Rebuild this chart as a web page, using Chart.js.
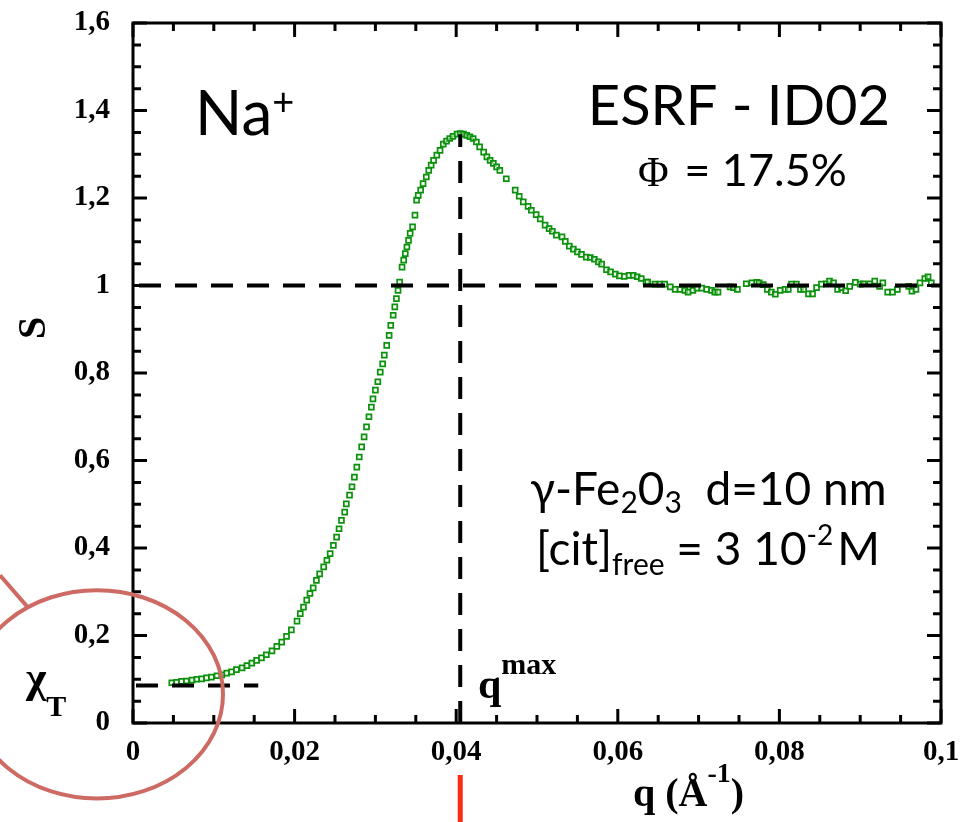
<!DOCTYPE html>
<html><head><meta charset="utf-8">
<script src="https://cdn.jsdelivr.net/npm/chart.js@4.4.0/dist/chart.umd.min.js"></script>
<style>html,body{margin:0;padding:0;background:#fff;overflow:hidden}</style>
</head><body>
<canvas id="c" width="967" height="822"></canvas>
<script>
// ---- data ----
const qValues = [
  0.0048,0.0054,0.0060,0.0066,0.0073,0.0079,0.0085,0.0091,0.0097,0.0104,0.0110,0.0116,0.0122,0.0128,0.0135,0.0141,0.0147,0.0153,0.0159,0.0165,0.0172,0.0178,0.0184,0.0190,0.0196,0.0203,0.0207,0.0211,0.0215,0.0219,0.0223,0.0227,
  0.0231,0.0236,0.0240,0.0244,0.0248,0.0252,0.0255,0.0258,0.0262,0.0264,0.0268,0.0271,0.0274,0.0277,0.0280,0.0283,0.0286,0.0289,0.0292,0.0295,0.0297,0.0300,0.0303,0.0306,0.0309,0.0311,0.0314,0.0317,0.0319,0.0322,0.0324,0.0326,0.0328,0.0330,
  0.0333,0.0335,0.0337,0.0339,0.0341,0.0343,0.0346,0.0349,0.0351,0.0353,0.0356,0.0359,0.0363,0.0366,0.0369,0.0372,0.0376,0.0380,0.0384,0.0388,0.0392,0.0396,0.0401,0.0405,0.0409,0.0413,0.0417,0.0421,0.0425,0.0429,0.0434,0.0438,0.0442,0.0446,0.0450,0.0454,0.0462,0.0473,0.0478,0.0483,0.0489,0.0493,0.0499,0.0504,0.0510,0.0515,0.0519,0.0524,0.0531,0.0535,0.0540,0.0545,0.0550,0.0555,0.0561,0.0566,0.0571,0.0576,0.0580,0.0586,0.0591,0.0597,0.0602,0.0608,0.0614,0.0619,0.0624,0.0629,0.0635,
  0.0637,0.0646,0.0652,0.0658,0.0665,0.0671,0.0677,0.0683,0.0687,0.0693,0.0698,0.0704,0.0710,0.0716,0.0720,0.0724,0.0739,0.0743,0.0748,0.0759,0.0766,0.0772,0.0775,0.0780,0.0785,0.0790,0.0795,0.0801,0.0807,0.0811,0.0815,0.0821,0.0826,0.0830,0.0836,0.0841,0.0846,0.0852,0.0858,0.0862,0.0867,0.0872,0.0877,0.0882,0.0887,0.0894,0.0900,0.0904,0.0912,0.0918,0.0924,0.0928,0.0934,0.0940,0.0946,0.0960,0.0964,0.0969,0.0974,0.0980,0.0984,0.0988
];
const sValues = [
  0.092,0.093,0.095,0.096,0.098,0.100,0.101,0.103,0.105,0.108,0.110,0.114,0.117,0.122,0.126,0.131,0.137,0.143,0.149,0.156,0.165,0.175,0.185,0.198,0.213,0.233,0.250,0.265,0.281,0.296,0.309,0.326,
  0.341,0.357,0.372,0.387,0.406,0.425,0.444,0.463,0.482,0.501,0.521,0.540,0.562,0.585,0.608,0.631,0.654,0.677,0.700,0.722,0.741,0.761,0.780,0.802,0.821,0.841,0.863,0.886,0.909,0.932,0.951,0.970,0.989,1.008,
  1.042,1.058,1.073,1.088,1.103,1.119,1.134,1.161,1.195,1.206,1.218,1.233,1.248,1.263,1.275,1.286,1.298,1.309,1.323,1.330,1.336,1.341,1.346,1.347,1.346,1.343,1.340,1.336,1.328,1.317,1.305,1.294,1.286,1.279,1.271,1.263,1.244,1.218,1.204,1.191,1.181,1.172,1.162,1.152,1.138,1.130,1.124,1.115,1.111,1.101,1.090,1.083,1.077,1.071,1.065,1.064,1.060,1.054,1.049,1.036,1.031,1.026,1.022,1.021,1.023,1.023,1.020,1.016,1.008,
  1.008,1.003,1.003,1.003,0.997,0.991,0.991,0.989,0.985,0.989,0.994,0.994,0.991,0.989,0.985,0.985,0.997,0.995,0.991,1.004,1.006,1.007,1.006,1.002,0.991,0.985,0.980,0.989,0.991,0.991,1.003,1.003,0.991,0.991,0.981,0.981,0.995,1.003,1.004,1.010,1.006,0.991,0.995,0.988,0.998,1.007,1.003,1.004,1.004,1.010,0.998,1.006,0.985,0.985,0.991,0.998,0.987,0.991,1.006,1.016,1.020,1.006
];
const xTicks = [0,0.02,0.04,0.06,0.08,0.1];
const xTickLabels = ['0','0,02','0,04','0,06','0,08','0,1'];
const yTicks = [0,0.2,0.4,0.6,0.8,1,1.2,1.4,1.6];
const yTickLabels = ['0','0,2','0,4','0,6','0,8','1','1,2','1,4','1,6'];
const qMax = 0.0405, sPeak = 1.346;
const chiT = 0.086, chiTEnd = 0.0155;
const sOne = 1;

const SERIF = '"Liberation Serif", "DejaVu Serif", serif';
const SANS = 'Lato, "Open Sans", sans-serif';

function runs(ctx, parts, x, baseline) {
  for (const p of parts) {
    ctx.font = p[1];
    ctx.fillText(p[0], x, baseline + (p[2] || 0));
    x += ctx.measureText(p[0]).width + (p[3] || 0);
  }
  return x;
}

const decor = {
  id: 'decor',
  afterDatasetsDraw(chart) {
    const {ctx, chartArea: a, scales: {x, y}} = chart;
    ctx.save();
    ctx.strokeStyle = '#000';
    ctx.lineWidth = 4;
    ctx.setLineDash([22, 14]);
    ctx.beginPath();
    ctx.moveTo(x.getPixelForValue(0) + 6, y.getPixelForValue(sOne));
    ctx.lineTo(a.right, y.getPixelForValue(sOne));
    ctx.stroke();
    ctx.beginPath();
    ctx.moveTo(x.getPixelForValue(qMax), y.getPixelForValue(0));
    ctx.lineTo(x.getPixelForValue(qMax), y.getPixelForValue(sPeak));
    ctx.stroke();
    ctx.beginPath();
    ctx.moveTo(x.getPixelForValue(0) + 3, y.getPixelForValue(chiT));
    ctx.lineTo(x.getPixelForValue(chiTEnd), y.getPixelForValue(chiT));
    ctx.stroke();
    ctx.restore();
  },
  afterDraw(chart) {
    const {ctx, chartArea: a, scales: {x, y}} = chart;
    ctx.save();
    ctx.strokeStyle = '#000';
    ctx.lineWidth = 3;
    ctx.strokeRect(a.left, a.top, a.right - a.left, a.bottom - a.top);
    ctx.beginPath();
    for (let i = 0; i <= 20; i++) {
      const px = x.getPixelForValue(i * 0.005);
      const len = (i % 4 === 0) ? 14 : 8;
      ctx.moveTo(px, a.bottom); ctx.lineTo(px, a.bottom - len);
      ctx.moveTo(px, a.top); ctx.lineTo(px, a.top + len);
    }
    for (let i = 0; i <= 32; i++) {
      const py = y.getPixelForValue(i * 0.05);
      const len = (i % 4 === 0) ? 14 : 8;
      ctx.moveTo(a.left, py); ctx.lineTo(a.left + len, py);
      ctx.moveTo(a.right, py); ctx.lineTo(a.right - len, py);
    }
    ctx.stroke();

    ctx.fillStyle = '#000';
    ctx.textAlign = 'left';
    ctx.textBaseline = 'alphabetic';
    runs(ctx, [['Na', '62px ' + SANS], ['+', '38px ' + SANS, -20]], 195, 135);
    ctx.textAlign = 'right';
    ctx.font = '56px ' + SANS;
    ctx.fillText('ESRF - ID02', 890, 125);
    ctx.textAlign = 'left';
    runs(ctx, [['\u03A6', '42px ' + SERIF, 0, 4], [' = 17.5%', '45px ' + SANS]], 638, 186);
    runs(ctx, [['\u03B3-Fe', '46px ' + SANS], ['2', '30px ' + SANS, 8], ['0', '46px ' + SANS], ['3', '30px ' + SANS, 8], ['  d=10 nm', '46px ' + SANS]], 530, 505);
    runs(ctx, [['[cit]', '46px ' + SANS], ['free', '30px ' + SANS, 10], [' = 3 10', '46px ' + SANS], ['-2', '28px ' + SANS, -20, 4], ['M', '46px ' + SANS]], 536, 565);
    runs(ctx, [['\u03C7', 'bold 44px ' + SERIF], ['T', 'bold 30px ' + SERIF, 24]], 26, 692);
    runs(ctx, [['q', 'bold 42px ' + SERIF], ['max', 'bold 30px ' + SERIF, -24]], 478, 698);
    runs(ctx, [['q (\u00C5', 'bold 40px ' + SERIF], ['-1', 'bold 28px ' + SERIF, -24], [')', 'bold 40px ' + SERIF]], 633, 806);
    ctx.save();
    ctx.translate(35, 328);
    ctx.rotate(-Math.PI / 2);
    ctx.textAlign = 'center';
    ctx.textBaseline = 'middle';
    ctx.font = 'bold 40px ' + SERIF;
    ctx.fillText('S', 0, 0);
    ctx.restore();

    const cx = x.getPixelForValue(-0.00446), cy = y.getPixelForValue(0.0656);
    const rx = x.getPixelForValue(0.0156) - x.getPixelForValue(0);
    const ry = y.getPixelForValue(0) - y.getPixelForValue(0.238);
    ctx.strokeStyle = '#cd6a63';
    ctx.lineWidth = 4;
    ctx.beginPath();
    ctx.ellipse(cx, cy, rx, ry, 0, 0, Math.PI * 2);
    ctx.stroke();
    ctx.beginPath();
    ctx.moveTo(x.getPixelForValue(-0.01646), y.getPixelForValue(0.3376));
    ctx.lineTo(x.getPixelForValue(-0.01312), y.getPixelForValue(0.2667));
    ctx.stroke();
    ctx.strokeStyle = '#ff2a12';
    ctx.lineWidth = 5;
    ctx.beginPath();
    ctx.moveTo(x.getPixelForValue(qMax), 775);
    ctx.lineTo(x.getPixelForValue(qMax), 822);
    ctx.stroke();
    ctx.restore();
  }
};

new Chart(document.getElementById('c'), {
  type: 'scatter',
  data: {
    datasets: [{
      data: qValues.map((q, i) => ({x: q, y: sValues[i]})),
      pointStyle: 'rect',
      radius: 3.5,
      borderWidth: 1.7,
      borderColor: 'rgb(12,145,12)',
      backgroundColor: 'rgba(235,250,235,0.5)',
      showLine: false
    }]
  },
  options: {
    responsive: false,
    animation: false,
    layout: {padding: {left: 0, top: 23, right: 26, bottom: 0}},
    plugins: {legend: {display: false}, tooltip: {enabled: false}},
    scales: {
      x: {
        type: 'linear', min: 0, max: 0.1,
        afterBuildTicks: s => { s.ticks = xTicks.map(v => ({value: v})); },
        afterFit: s => { s.height = 99; s.paddingLeft = 0; s.paddingRight = 0; },
        ticks: {callback: (v, i) => xTickLabels[i], color: '#000', padding: 12,
                font: {family: SERIF, size: 29, weight: 'bold'}, maxRotation: 0, autoSkip: false},
        grid: {display: false, drawTicks: false, tickLength: 0},
        border: {display: false}
      },
      y: {
        type: 'linear', min: 0, max: 1.6,
        afterBuildTicks: s => { s.ticks = yTicks.map(v => ({value: v})); },
        afterFit: s => { s.width = 133; s.paddingTop = 0; s.paddingBottom = 0; },
        ticks: {callback: (v, i) => yTickLabels[i], color: '#000', padding: 23,
                font: {family: SERIF, size: 29, weight: 'bold'}, autoSkip: false},
        grid: {display: false, drawTicks: false, tickLength: 0},
        border: {display: false}
      }
    }
  },
  plugins: [decor]
});
</script>
</body></html>
